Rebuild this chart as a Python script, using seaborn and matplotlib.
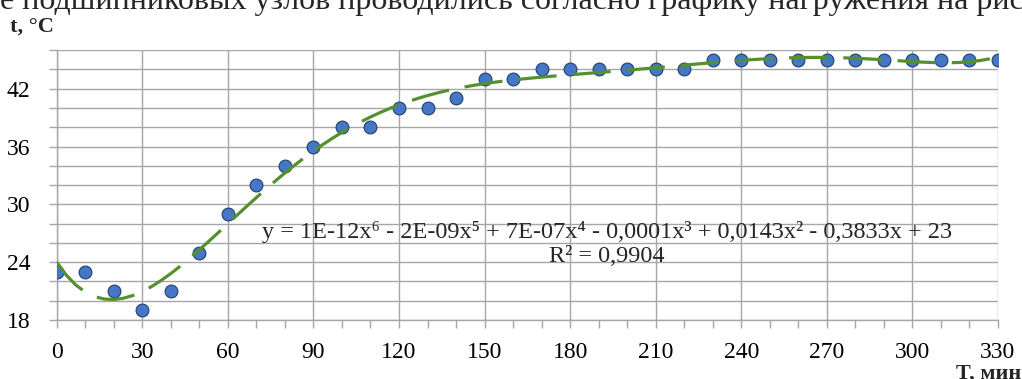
import warnings
import numpy as np
import pandas as pd
import matplotlib
matplotlib.use("Agg")
import matplotlib.pyplot as plt
from matplotlib.ticker import FixedLocator, FuncFormatter
import seaborn as sns

warnings.filterwarnings("ignore")

# Data
minutes = [0, 10, 20, 30, 40, 50, 60, 70, 80, 90, 100, 110, 120, 130, 140, 150, 160,
           170, 180, 190, 200, 210, 220, 230, 240, 250, 260, 270, 280, 290, 300, 310, 320, 330]
temps = [23, 23, 21, 19, 21, 25, 29, 32, 34, 36, 38, 38, 40, 40, 41, 43, 43,
         44, 44, 44, 44, 44, 44, 45, 45, 45, 45, 45, 45, 45, 45, 45, 45, 45]
x_labels = [0, 30, 60, 90, 120, 150, 180, 210, 240, 270, 300, 330]
y_labels = [18, 24, 30, 36, 42]
y_grid = [18, 20, 22, 24, 26, 28, 30, 32, 34, 36, 38, 40, 42, 44, 46]
x_minor = [10, 20, 40, 50, 70, 80, 100, 110, 130, 140, 160, 170, 190, 200,
           220, 230, 250, 260, 280, 290, 310, 320]

equation = "y = 1E-12x⁶ - 2E-09x⁵ + 7E-07x⁴ - 0,0001x³ + 0,0143x² - 0,3833x + 23"
r2_text = "R² = 0,9904"
top_line = "е подшипниковых узлов проводились согласно графику нагружения на рис"

df = pd.DataFrame({"T": minutes, "t": temps})

sns.set_theme(style="white")
plt.rcParams["font.family"] = ["Liberation Serif", "DejaVu Serif"]

fig = plt.figure(figsize=(10.22, 3.79), dpi=100)
ax = fig.add_axes([0.0555, 0.1557, 0.921, 0.712])

grid_col = "#A6A6A6"

# points
sns.scatterplot(data=df, x="T", y="t", ax=ax, s=85, color="#4477C6",
                edgecolor="#233F6B", linewidth=0.8, zorder=3, legend=False)

# 6th order polynomial trend line
sns.regplot(data=df, x="T", y="t", ax=ax, order=6, ci=None, scatter=False,
            line_kws=dict(color="#55902E", lw=2.3, dashes=(12, 5), zorder=4))

ax.set_xlim(0, 330)
ax.set_ylim(18, 46)

ax.yaxis.set_major_locator(FixedLocator(y_grid))
ax.yaxis.set_major_formatter(FuncFormatter(lambda v, p: f"{int(v)}" if int(v) in y_labels else ""))
ax.xaxis.set_major_locator(FixedLocator(x_labels))
ax.xaxis.set_minor_locator(FixedLocator(x_minor))

ax.grid(True, which="major", color=grid_col, lw=1)
ax.tick_params(axis="both", which="both", direction="out", length=6, width=1,
               color=grid_col, labelsize=17, labelcolor="black")
ax.tick_params(axis="x", which="major", pad=10)
ax.tick_params(axis="y", which="major", pad=13)
ax.tick_params(axis="x", which="minor", bottom=True)
ax.tick_params(axis="y", left=True)
ax.tick_params(axis="x", bottom=True)

for side in ["top", "right"]:
    ax.spines[side].set_visible(False)
for side in ["left", "bottom"]:
    ax.spines[side].set_color(grid_col)
    ax.spines[side].set_linewidth(1)

ax.set_xlabel("")
ax.set_ylabel("")

ax.text(193, 27.1, equation, ha="center", va="center", fontsize=17.5, zorder=5)
ax.text(193, 24.6, r2_text, ha="center", va="center", fontsize=17.5, zorder=5)

fig.text(10 / 1022, 1 - 32 / 379, "t, °C", fontsize=16, fontweight="bold",
         ha="left", va="baseline")
fig.text(1021 / 1022, 1 - 364 / 379, "T, мин", fontsize=16, fontweight="bold",
         ha="right", va="top")
fig.text(0, 1 - 9 / 379, top_line, fontsize=23, ha="left", va="baseline")

fig.savefig("out.png", dpi=100)
